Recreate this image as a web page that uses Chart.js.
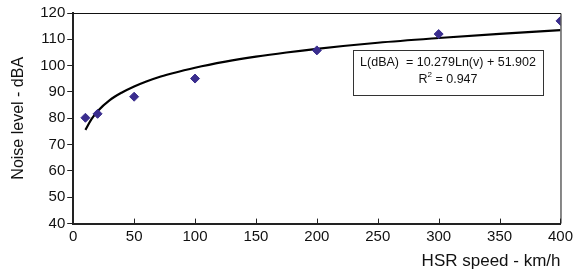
<!DOCTYPE html>
<html>
<head>
<meta charset="utf-8">
<title>Noise level vs HSR speed</title>
<script src="https://cdn.jsdelivr.net/npm/chart.js@4.4.1/dist/chart.umd.min.js"></script>
<style>
  html, body { margin: 0; padding: 0; background: #fff; }
  #wrap { width: 577px; height: 278px; position: relative; }
</style>
</head>
<body>
<div id="wrap"><canvas id="myChart"></canvas></div>
<script>
/*******************************
* DATA
********************************/
var speeds = [10, 20, 50, 100, 200, 300, 400];
var noise = [80.2, 81.7, 88.2, 95.1, 105.8, 112, 117];

// trend line
var trendSpeeds = [10, 15, 20, 30, 40, 50, 60, 70, 80, 100, 125, 150, 175, 200, 250, 300, 350, 400];
var trendNoise = [75.6, 79.7, 82.7, 86.9, 89.8, 92.1, 94.0, 95.6, 96.9, 99.2, 101.5, 103.4, 105.0, 106.4, 108.7, 110.5, 112.1, 113.5];

var xTicks = [0, 50, 100, 150, 200, 250, 300, 350, 400];
var yTicks = [40, 50, 60, 70, 80, 90, 100, 110, 120];

var fitText = 'L(dBA)  = 10.279Ln(v) + 51.902';
var r2Text = '= 0.947';

(function(){

  var FONT = '"Liberation Sans", Arial, Helvetica, sans-serif';

  window.addEventListener('load', function() {
    app.init();
  })

  var app = {

    init: function() {
      app.draw();
    },

    /*******************************
    * CHART
    ********************************/
    draw: function() {
      var ctx = document.getElementById('myChart');

      var toPoints = function(xs, ys) {
        return xs.map(function(x, i) { return { x: x, y: ys[i] }; });
      };

      // frame on top/right, x ticks pointing inward, equation box
      var extras = {
        id: 'extras',
        afterDraw: function(chart) {
          var c = chart.ctx;
          var a = chart.chartArea;
          var xs = chart.scales.x;

          c.save();
          c.strokeStyle = '#111';
          c.lineWidth = 1;
          c.beginPath();
          c.moveTo(a.left, a.top + 0.5);
          c.lineTo(a.right + 0.5, a.top + 0.5);
          c.lineTo(a.right + 0.5, a.bottom);
          c.stroke();

          c.lineWidth = 1;
          c.strokeStyle = '#222';
          xTicks.forEach(function(t) {
            if (t === 0) return;
            var px = Math.round(xs.getPixelForValue(t)) + 0.5;
            c.beginPath();
            c.moveTo(px, a.bottom);
            c.lineTo(px, a.bottom - 5);
            c.stroke();
          });

          // equation box
          var bx = 353, by = 50, bw = 190, bh = 45;
          c.fillStyle = '#fff';
          c.fillRect(bx, by, bw, bh);
          c.strokeStyle = '#333';
          c.strokeRect(bx + 0.5, by + 0.5, bw, bh);

          c.fillStyle = '#111';
          c.font = '12.5px ' + FONT;
          c.textBaseline = 'middle';
          c.textAlign = 'center';
          c.fillText(fitText, bx + bw / 2, by + 13);

          var rW = c.measureText('R').width;
          var eqW = c.measureText(' ' + r2Text).width;
          c.font = '8px ' + FONT;
          var supW = c.measureText('2').width;
          var total = rW + supW + eqW;
          var sx = bx + bw / 2 - total / 2;
          c.font = '12.5px ' + FONT;
          c.textAlign = 'left';
          c.fillText('R', sx, by + 30);
          c.font = '8px ' + FONT;
          c.fillText('2', sx + rW, by + 25);
          c.font = '12.5px ' + FONT;
          c.fillText(' ' + r2Text, sx + rW + supW, by + 30);
          c.restore();
        }
      };

      var myChart = new Chart(ctx, {
        data: {
          datasets: [
            {
              type: 'scatter',
              label: 'Measured',
              data: toPoints(speeds, noise),
              pointStyle: 'rectRot',
              pointRadius: 4.5,
              backgroundColor: '#3a2d8e',
              borderColor: '#3a2d8e',
              borderWidth: 1,
              order: 1
            },
            {
              type: 'line',
              label: 'Trend',
              data: toPoints(trendSpeeds, trendNoise),
              borderColor: '#000',
              borderWidth: 2.2,
              pointRadius: 0,
              fill: false,
              cubicInterpolationMode: 'monotone',
              order: 2
            }
          ]
        },
        options: {
          responsive: true,
          maintainAspectRatio: false,
          animation: false,
          layout: {
            padding: { left: 9, right: 2, top: 13, bottom: 6 }
          },
          plugins: {
            legend: { display: false },
            tooltip: { enabled: false }
          },
          scales: {
            x: {
              type: 'linear',
              min: 0,
              max: 400,
              afterBuildTicks: function(s) {
                s.ticks = xTicks.map(function(v) { return { value: v }; });
              },
              grid: { display: false, drawTicks: false },
              border: { display: true, color: '#222', width: 2 },
              ticks: {
                color: '#111',
                padding: 4,
                maxRotation: 0,
                font: { family: FONT, size: 15 }
              },
              title: {
                display: true,
                text: 'HSR speed - km/h',
                align: 'end',
                color: '#111',
                padding: { top: 2, bottom: 0 },
                font: { family: FONT, size: 17 }
              }
            },
            y: {
              type: 'linear',
              min: 40,
              max: 120,
              afterBuildTicks: function(s) {
                s.ticks = yTicks.map(function(v) { return { value: v }; });
              },
              grid: {
                drawOnChartArea: false,
                drawTicks: true,
                tickLength: 6,
                color: '#222'
              },
              border: { display: true, color: '#222', width: 2 },
              ticks: {
                color: '#111',
                padding: 2,
                font: { family: FONT, size: 15 }
              },
              title: {
                display: true,
                text: 'Noise level - dBA',
                color: '#111',
                padding: { top: 0, bottom: 10 },
                font: { family: FONT, size: 16 }
              }
            }
          }
        },
        plugins: [extras]
      });
    }
  }

})()
</script>
</body>
</html>
